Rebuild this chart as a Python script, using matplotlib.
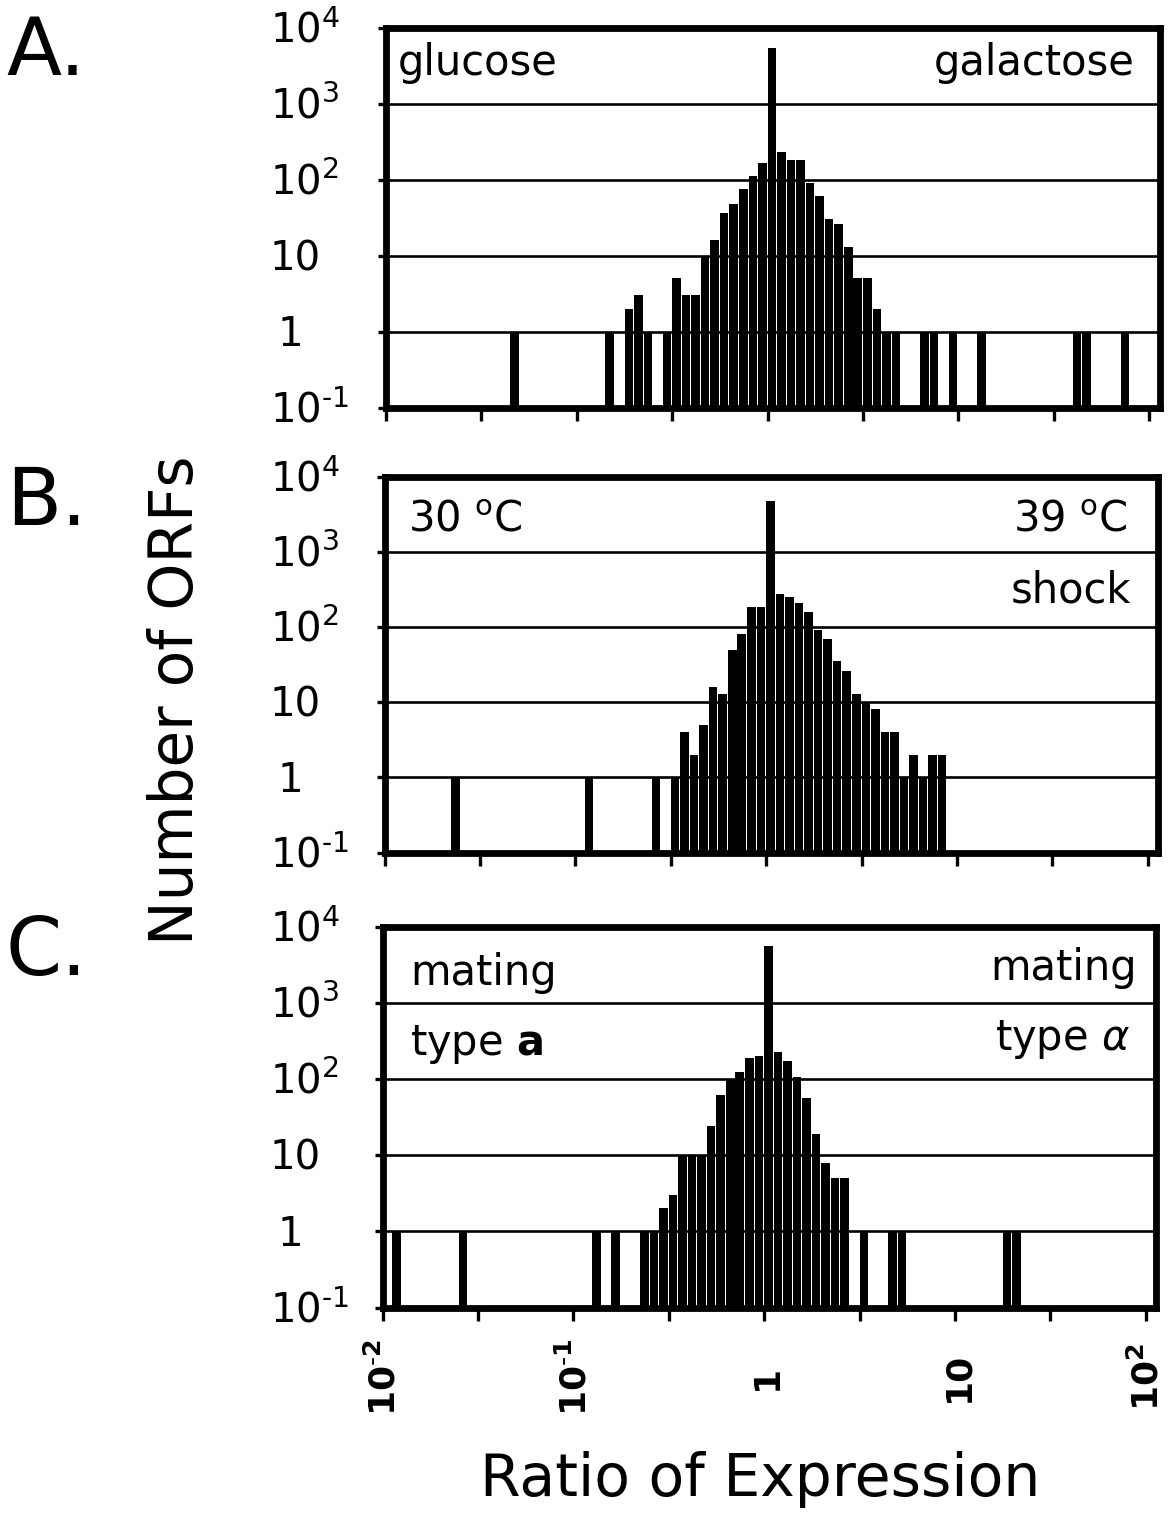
import numpy as np
import matplotlib
matplotlib.use("Agg")
import matplotlib.pyplot as plt
from matplotlib.ticker import NullLocator, FixedLocator

plt.rcParams['font.family'] = ['DejaVu Sans']
plt.rcParams['mathtext.fontset'] = 'dejavusans'

# ---------------- data ----------------
BIN = 0.05  # width of one histogram bin in log10(ratio); bin k covers [k*BIN, (k+1)*BIN)

# A: glucose vs galactose
a_bin = [-27, -17, -15, -14, -13, -11, -10, -9, -8, -7, -6, -5, -4, -3, -2, -1, 0,
         1, 2, 3, 4, 5, 6, 7, 8, 9, 10, 11, 12, 13, 16, 17, 19, 22, 32, 33, 37]
a_count = [1, 1, 2, 3, 1, 1, 5, 3, 3, 10, 16, 36, 48, 75, 110, 165, 5400,
           230, 183, 183, 91, 60, 30, 26, 13, 5, 5, 2, 1, 1, 1, 1, 1, 1, 1, 1, 1]

# B: 30 C vs 39 C shock
b_bin = [-33, -19, -12, -10, -9, -8, -7, -6, -5, -4, -3, -2, -1, 0,
         1, 2, 3, 4, 5, 6, 7, 8, 9, 10, 11, 12, 13, 14, 15, 16, 17, 18]
b_count = [1, 1, 1, 1, 4, 2, 5, 16, 13, 49, 80, 187, 187, 4800,
           278, 251, 210, 159, 92, 69, 35, 26, 13, 10, 8, 4, 4, 1, 2, 1, 2, 2]

# C: mating type a vs alpha
c_bin = [-39, -32, -18, -16, -13, -12, -11, -10, -9, -8, -7, -6, -5, -4, -3, -2, -1, 0,
         1, 2, 3, 4, 5, 6, 7, 8, 10, 13, 14, 25, 26]
c_count = [1, 1, 1, 1, 1, 1, 2, 3, 10, 10, 10, 24, 62, 100, 123, 189, 200, 5700,
           228, 171, 108, 56, 19, 8, 5, 5, 1, 1, 1, 1, 1]

y_tick_values = [0.1, 1, 10, 100, 1000, 10000]
y_tick_labels = [r"$10^{\text{-}1}$", "1", "10", r"$10^{2}$", r"$10^{3}$", r"$10^{4}$"]
x_tick_values = [0.01, 0.1, 1, 10, 100]
x_tick_labels = [r"$\mathbf{10^{\text{-}2}}$", r"$\mathbf{10^{\text{-}1}}$", "1", "10", r"$\mathbf{10^{2}}$"]
x_minor_ticks = [10 ** -1.5, 10 ** -0.5, 10 ** 0.5, 10 ** 1.5]

panel_letters = ["A.", "B.", "C."]
left_notes = [["glucose"], [r"30 $^{\mathrm{o}}$C"], ["mating", r"type $\mathbf{a}$"]]
right_notes = [["galactose"], [r"39 $^{\mathrm{o}}$C", "shock"], ["mating", r"type $\alpha$"]]

# ---------------- layout (pixels) ----------------
W, H = 1174, 1517
fig = plt.figure(figsize=(W / 100, H / 100), dpi=100)

DEC_PX = 190.8
XMIN_LOG, XMAX_LOG = -2.0, 2.055
YMIN, YMAX = 0.1, 1e4
panel_px = [(386.0, 27.5, 407.5), (384.5, 476.7, 852.5), (382.5, 927.0, 1307.5)]
letter_base = [75, 525, 975]
left_note_pos = [[(398, 75)], [(408, 532)], [(410, 985), (410, 1055)]]
right_note_pos = [[(1135, 75)], [(1127, 532), (1131, 602)], [(1137, 980), (1130, 1050)]]

TXT = 30
YT = 29
XT = 26
data = [(a_bin, a_count), (b_bin, b_count), (c_bin, c_count)]

for i, (bins, counts) in enumerate(data):
    lpx, tpx, bpx = panel_px[i]
    wpx = (XMAX_LOG - XMIN_LOG) * DEC_PX
    ax = fig.add_axes([lpx / W, 1 - bpx / H, wpx / W, (bpx - tpx) / H])
    ax.set_xscale('log')
    ax.set_yscale('log')
    ax.set_xlim(10 ** XMIN_LOG, 10 ** XMAX_LOG)
    ax.set_ylim(YMIN, YMAX)

    k = np.array(bins, dtype=float)
    lefts = 10 ** (k * BIN)
    rights = 10 ** ((k + 0.9) * BIN)
    ax.bar(lefts, np.array(counts) - YMIN, width=rights - lefts, bottom=YMIN,
           align='edge', color='black', linewidth=0, zorder=2)

    for v in y_tick_values[1:-1]:
        ax.axhline(v, color='black', lw=1.9, zorder=1)

    for s in ax.spines.values():
        s.set_linewidth(4.9)
        s.set_zorder(5)

    ax.xaxis.set_major_locator(FixedLocator(x_tick_values + x_minor_ticks))
    ax.xaxis.set_minor_locator(NullLocator())
    ax.yaxis.set_major_locator(FixedLocator(y_tick_values))
    ax.yaxis.set_minor_locator(NullLocator())
    ax.tick_params(axis='x', direction='out', length=9, width=2.4, labelbottom=False)
    ax.tick_params(axis='y', direction='out', length=6, width=2.4, labelleft=False)

    # y tick labels
    dh = 0.729 * YT
    for v, lab in zip(y_tick_values, y_tick_labels):
        if lab == "1":
            ax.annotate(lab, xy=(290, v), xycoords=('figure pixels', 'data'),
                        xytext=(0, -dh / 2), textcoords='offset points',
                        ha='center', va='baseline', fontsize=YT, annotation_clip=False)
        else:
            ax.annotate(lab, xy=(270, v), xycoords=('figure pixels', 'data'),
                        xytext=(0, -dh / 2), textcoords='offset points',
                        ha='left', va='baseline', fontsize=YT, annotation_clip=False)

    # notes
    for lab, (x, y) in zip(left_notes[i], left_note_pos[i]):
        fig.text(x / W, 1 - y / H, lab, ha='left', va='baseline', fontsize=TXT)
    for lab, (x, y) in zip(right_notes[i], right_note_pos[i]):
        fig.text(x / W, 1 - y / H, lab, ha='right', va='baseline', fontsize=TXT)

    fig.text(6 / W, 1 - letter_base[i] / H, panel_letters[i], ha='left', va='baseline', fontsize=58)

    if i == 2:
        xh = 0.729 * XT
        for v, lab in zip(x_tick_values, x_tick_labels):
            ax.annotate(lab, xy=(v, H - 1377), xycoords=('data', 'figure pixels'),
                        xytext=(xh / 2, 0), textcoords='offset points',
                        rotation=90, rotation_mode='anchor', ha='center', va='baseline',
                        fontsize=XT, fontweight='bold', annotation_clip=False)

fig.text(177 / W, 1 - 700 / H, "Number of ORFs", rotation=90, ha='center', va='center', fontsize=43)
fig.text(760 / W, 1 - 1480 / H, "Ratio of Expression", ha='center', va='center', fontsize=42)

fig.savefig("out.png", dpi=100, facecolor='white')
